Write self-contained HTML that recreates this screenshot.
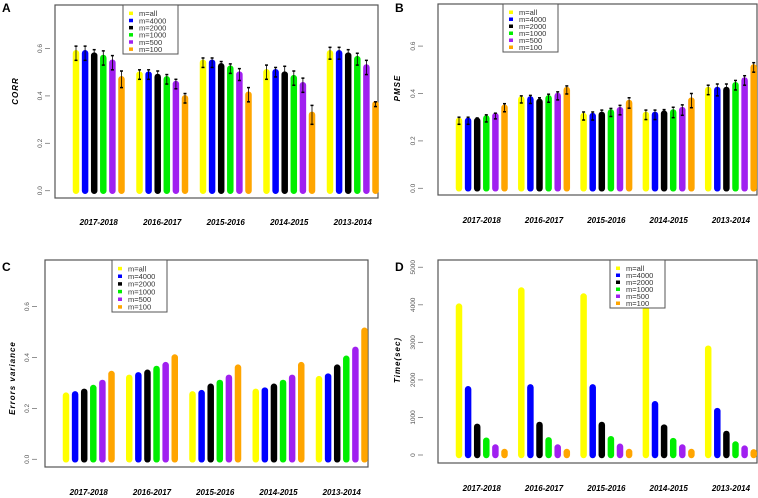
<!DOCTYPE html>
<html><head><meta charset="utf-8"><style>
body{margin:0;background:#fff;}
svg{display:block;font-family:"Liberation Sans",sans-serif;}
</style></head><body>
<svg id="s" width="758" height="498" viewBox="0 0 758 498"></svg>
<script>
const categories=["2017-2018","2016-2017","2015-2016","2014-2015","2013-2014"];
const seriesNames=["m=all","m=4000","m=2000","m=1000","m=500","m=100"];
const colors=["#ffff00","#0000ff","#000000","#00ee00","#a020f0","#ffa500"];
const corrValues=[[.58,.58,.57,.56,.54,.47],[.49,.49,.48,.47,.45,.39],[.54,.54,.525,.515,.49,.405],[.50,.50,.49,.475,.445,.32],[.58,.58,.57,.555,.52,.365]];
const corrErr=[[.03,.03,.025,.03,.03,.035],[.02,.02,.025,.02,.02,.02],[.02,.02,.02,.02,.025,.03],[.03,.02,.035,.03,.03,.04],[.025,.025,.025,.025,.03,.01]];
const pmseValues=[[.285,.285,.285,.295,.305,.34],[.375,.375,.365,.38,.39,.415],[.305,.305,.31,.32,.33,.36],[.31,.31,.315,.32,.33,.37],[.415,.415,.415,.435,.455,.51]];
const pmseErr=[[.015,.015,.012,.015,.012,.017],[.015,.017,.017,.017,.017,.017],[.017,.017,.02,.017,.02,.022],[.02,.02,.017,.022,.022,.03],[.02,.025,.025,.02,.02,.02]];
const errVarValues=[[.25,.255,.265,.28,.30,.335],[.32,.33,.34,.355,.37,.40],[.255,.26,.285,.30,.32,.36],[.265,.27,.285,.30,.32,.37],[.315,.325,.36,.395,.43,.505]];
const timeValues=[[3950,1750,750,380,200,80],[4380,1800,800,390,200,80],[4220,1800,800,420,220,80],[3880,1350,730,370,200,80],[2830,1170,560,280,170,70]];
const ticks01=[0,0.2,0.4,0.6];
const tickLabels01=["0.0","0.2","0.4","0.6"];
const ticksTime=[0,1000,2000,3000,4000,5000];
const tickLabelsTime=["0","1000","2000","3000","4000","5000"];

const NS="http://www.w3.org/2000/svg";
const svg=document.getElementById('s');
function mk(tag,attrs,parent,txt){const e=document.createElementNS(NS,tag);for(const k in attrs)e.setAttribute(k,attrs[k]);if(txt!==undefined)e.textContent=txt;(parent||svg).appendChild(e);return e;}

function panel(p){
  const g=mk('g',{});
  
  
  const y=v=>p.y0-(v/p.unit)*p.upx;
  const x=(gi,si)=>p.x0+gi*p.gs+si*p.bs;
  const box=mk('rect',{x:p.bx,y:p.by,width:p.bw,height:p.bh,fill:'none',stroke:'#555','stroke-width':1.2},g);
  
  const lt=mk('text',{x:p.lx,y:p.ly,'font-size':12,'font-weight':'bold'},g,p.letter);
  
  p.ticks.forEach((t,i)=>{
    const yy=y(t);
    mk('line',{x1:p.tx-3,x2:p.tx+2,y1:yy,y2:yy,stroke:'#777','stroke-width':0.8},g);
    const tl=mk('text',{x:p.tx-6,y:yy,'font-size':6.5,fill:'#555','text-anchor':'middle',transform:`rotate(-90 ${p.tx-6} ${yy})`},g,p.tickLabels[i]);
    
  });
  const yl=mk('text',{x:p.ylx,y:p.yly,'font-size':8,'font-weight':'bold','font-style':'italic','text-anchor':'middle','letter-spacing':1,transform:`rotate(-90 ${p.ylx} ${p.yly})`},g,p.ylabel);
  
  p.values.forEach((grp,gi)=>{
    grp.forEach((v,si)=>{
      const xx=x(gi,si);
      const b=mk('line',{x1:xx,x2:xx,y1:y(0),y2:y(v),stroke:colors[si],'stroke-width':6.5,'stroke-linecap':'round'},g);
      
      if(p.err){
        const e=p.err[gi][si];
        mk('line',{x1:xx,x2:xx,y1:y(v-e),y2:y(v+e),stroke:'#000','stroke-width':0.8},g);
        mk('line',{x1:xx-1.5,x2:xx+1.5,y1:y(v-e),y2:y(v-e),stroke:'#000','stroke-width':1.5},g);
        mk('line',{x1:xx-1.5,x2:xx+1.5,y1:y(v+e),y2:y(v+e),stroke:'#000','stroke-width':1.5},g);
      }
    });
    const cl=mk('text',{x:x(gi,2.5),y:p.cy,'font-size':8,'font-weight':'bold','font-style':'italic','text-anchor':'middle'},g,categories[gi]);
    
  });
  const lg=mk('g',{},g);
  
  mk('rect',{x:p.gx,y:p.gy,width:55,height:p.gh,fill:'#fff',stroke:'#555','stroke-width':1},lg);
  const rs=(p.gh-6)/6;
  seriesNames.forEach((n,i)=>{
    const yy=p.gy+5+rs*i+rs/2;
    mk('rect',{x:p.gx+6,y:yy-2,width:4,height:3.5,fill:colors[i]},lg);
    const t=mk('text',{x:p.gx+16,y:yy+2.5,'font-size':7.5,fill:'#333'},lg,n);
    
  });
}
panel({name:'panel-a-corr',letter:'A',lx:2,ly:12,bx:55,by:5,bw:323,bh:193,y0:190.7,unit:0.2,upx:47.4,x0:76,gs:63.5,bs:9.1,
 ticks:ticks01,tickLabels:tickLabels01,tx:48,ylabel:'CORR',ylx:18,yly:91,values:corrValues,err:corrErr,cy:225,gx:123,gy:5,gh:49});
panel({name:'panel-b-pmse',letter:'B',lx:395,ly:12,bx:438,by:4,bw:319,bh:191,y0:188.3,unit:0.2,upx:47.4,x0:459,gs:62.3,bs:9.1,
 ticks:ticks01,tickLabels:tickLabels01,tx:421,ylabel:'PMSE',ylx:400,yly:88,values:pmseValues,err:pmseErr,cy:223,gx:503,gy:4,gh:48});
panel({name:'panel-c-errors-variance',letter:'C',lx:2,ly:271,bx:45,by:260,bw:323,bh:207,y0:459.3,unit:0.2,upx:50.9,x0:66,gs:63.25,bs:9.1,
 ticks:ticks01,tickLabels:tickLabels01,tx:35,ylabel:'Errors variance',ylx:15,yly:378,values:errVarValues,err:null,cy:495,gx:112,gy:260,gh:52});
panel({name:'panel-d-time',letter:'D',lx:395,ly:271,bx:438,by:260,bw:319,bh:203,y0:455,unit:1000,upx:37.55,x0:459,gs:62.3,bs:9.1,
 ticks:ticksTime,tickLabels:tickLabelsTime,tx:421,ylabel:'Time(sec)',ylx:400,yly:360,values:timeValues,err:null,cy:491,gx:610,gy:260,gh:48});
</script>
</body></html>
